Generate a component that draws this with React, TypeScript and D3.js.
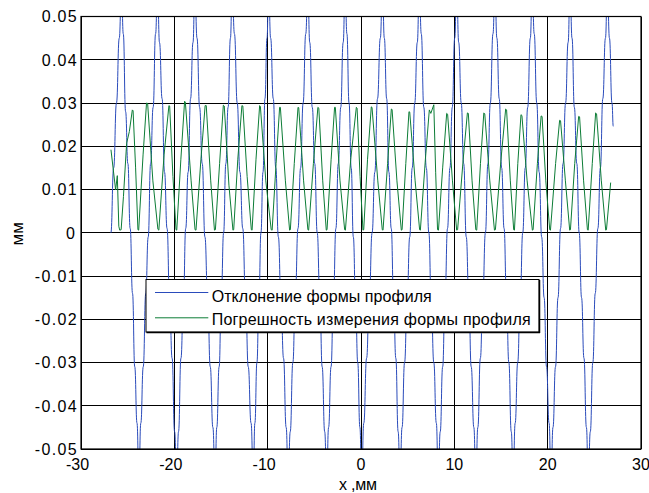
import React from 'react';
import * as d3 from 'd3';

const xTicks = [-30, -20, -10, 0, 10, 20, 30];
const xTickLabels = ['-30', '-20', '-10', '0', '10', '20', '30'];
const yTicks = [-0.05, -0.04, -0.03, -0.02, -0.01, 0, 0.01, 0.02, 0.03, 0.04, 0.05];
const yTickLabels = ['-0.05', '-0.04', '-0.03', '-0.02', '-0.01', '0', '0.01', '0.02', '0.03', '0.04', '0.05'];

const seriesNames = ['Отклонение формы профиля', 'Погрешность измерения формы профиля'];
const xLabel = 'x ,мм';
const yLabel = 'мм';

// Profile deviation (blue)
const blueX = [
  -26.8, -26.5, -26.2, -25.9, -25.66,
  -25.47, -25.22, -24.98, -24.73, -24.48, -24.24, -24.0, -23.8,
  -23.59, -23.33, -23.06, -22.8, -22.54, -22.27, -22.01, -21.8,
  -21.59, -21.31, -21.05, -20.78, -20.5, -20.24, -19.97, -19.75,
  -19.55, -19.29, -19.03, -18.78, -18.52, -18.26, -18.0, -17.8,
  -17.57, -17.29, -17.01, -16.72, -16.44, -16.15, -15.87, -15.64,
  -15.45, -15.2, -14.96, -14.72, -14.48, -14.24, -13.99, -13.8,
  -13.56, -13.26, -12.97, -12.67, -12.37, -12.08, -11.78, -11.54,
  -11.37, -11.15, -10.94, -10.72, -10.5, -10.29, -10.07, -9.9,
  -9.68, -9.4, -9.13, -8.85, -8.57, -8.3, -8.02, -7.8,
  -7.58, -7.3, -7.03, -6.75, -6.47, -6.2, -5.92, -5.7,
  -5.49, -5.22, -4.96, -4.69, -4.42, -4.16, -3.89, -3.68,
  -3.47, -3.21, -2.95, -2.69, -2.43, -2.17, -1.91, -1.7,
  -1.51, -1.28, -1.05, -0.82, -0.58, -0.35, -0.12, 0.07,
  0.3, 0.6, 0.89, 1.19, 1.48, 1.77, 2.07, 2.3,
  2.5, 2.75, 2.99, 3.24, 3.49, 3.73, 3.98, 4.18,
  4.4, 4.67, 4.94, 5.22, 5.49, 5.76, 6.03, 6.25,
  6.46, 6.73, 7.0, 7.27, 7.53, 7.8, 8.07, 8.28,
  8.49, 8.75, 9.01, 9.27, 9.53, 9.78, 10.04, 10.25,
  10.47, 10.74, 11.0, 11.28, 11.55, 11.81, 12.09, 12.3,
  12.52, 12.79, 13.05, 13.33, 13.6, 13.86, 14.14, 14.35,
  14.56, 14.81, 15.07, 15.33, 15.58, 15.84, 16.1, 16.3,
  16.52, 16.79, 17.05, 17.33, 17.6, 17.86, 18.14, 18.35,
  18.56, 18.83, 19.09, 19.36, 19.62, 19.88, 20.15, 20.36,
  20.57, 20.84, 21.11, 21.38, 21.65, 21.92, 22.19, 22.4,
  22.61, 22.86, 23.12, 23.38, 23.63, 23.89, 24.15, 24.35,
  24.57, 24.84, 25.1, 25.38, 25.65, 25.91, 26.19, 26.4,
  26.62, 26.89, 27.03,
];
const blueY = [
  0.0, 0.015, 0.03, 0.045, 0.057,
  0.046, 0.028, 0.016, 0.001, -0.014, -0.031, -0.044, -0.057,
  -0.044, -0.031, -0.014, -0.001, 0.016, 0.029, 0.046, 0.057,
  0.044, 0.031, 0.014, 0.001, -0.016, -0.029, -0.046, -0.057,
  -0.046, -0.029, -0.016, 0.001, 0.014, 0.031, 0.044, 0.057,
  0.045, 0.029, 0.016, -0.001, -0.014, -0.031, -0.045, -0.057,
  -0.045, -0.031, -0.014, 0.0, 0.016, 0.029, 0.045, 0.057,
  0.046, 0.03, 0.014, 0.001, -0.015, -0.031, -0.044, -0.057,
  -0.044, -0.03, -0.016, 0.0, 0.014, 0.031, 0.045, 0.057,
  0.045, 0.031, 0.015, -0.001, -0.016, -0.029, -0.045, -0.057,
  -0.046, -0.03, -0.014, 0.001, 0.015, 0.03, 0.046, 0.057,
  0.044, 0.029, 0.016, 0.0, -0.014, -0.031, -0.046, -0.057,
  -0.045, -0.031, -0.015, 0.001, 0.016, 0.029, 0.044, 0.057,
  0.046, 0.03, 0.015, -0.001, -0.016, -0.03, -0.045, -0.057,
  -0.044, -0.029, -0.015, 0.0, 0.014, 0.031, 0.045, 0.057,
  0.045, 0.031, 0.014, 0.001, -0.015, -0.029, -0.046, -0.057,
  -0.045, -0.03, -0.016, -0.001, 0.015, 0.03, 0.044, 0.057,
  0.046, 0.029, 0.015, 0.0, -0.016, -0.03, -0.044, -0.057,
  -0.046, -0.031, -0.014, 0.001, 0.015, 0.029, 0.045, 0.057,
  0.044, 0.03, 0.016, -0.001, -0.015, -0.031, -0.045, -0.057,
  -0.045, -0.029, -0.015, 0.0, 0.016, 0.03, 0.046, 0.057,
  0.045, 0.031, 0.015, 0.001, -0.014, -0.03, -0.046, -0.057,
  -0.044, -0.03, -0.016, 0.0, 0.015, 0.029, 0.045, 0.057,
  0.046, 0.03, 0.014, -0.001, -0.015, -0.031, -0.044, -0.057,
  -0.045, -0.031, -0.015, 0.001, 0.016, 0.03, 0.044, 0.057,
  0.045, 0.029, 0.016, 0.0, -0.015, -0.029, -0.045, -0.057,
  -0.046, -0.03, -0.014, 0.001, 0.015, 0.031, 0.045, 0.057,
  0.045, 0.03, 0.0246,
];

// Measurement error (green)
const greenX = [
  -26.79, -26.29, -26.11, -25.95, -25.85, -25.7, -25.45, -25.11, -24.82, -24.5, -24.42, -24.15,
  -23.9, -23.82, -23.35, -22.98, -22.86, -22.3,
  -21.76, -21.66, -21.1, -20.58, -20.5, -20.15,
  -19.82, -19.74, -19.3, -18.9, -18.82, -18.2,
  -17.78, -17.68, -17.15, -16.7, -16.58, -16.1,
  -15.7, -15.6, -15.15, -14.75, -14.65, -14.15,
  -13.72, -13.64, -13.2, -12.76, -12.66, -12.2,
  -11.75, -11.67, -11.25, -10.86, -10.78, -10.2,
  -9.62, -9.52, -9.1, -8.72, -8.64, -8.1,
  -7.65, -7.57, -7.15, -6.75, -6.67, -6.15,
  -5.69, -5.61, -5.1, -4.62, -4.52, -4.1,
  -3.72, -3.64, -3.2, -2.83, -2.75, -2.25,
  -1.75, -1.67, -1.1, -0.5, -0.42, -0.1,
  0.21, 0.29, 0.7, 1.1, 1.18, 1.8,
  2.28, 2.36, 2.85, 3.25, 3.33, 3.85,
  4.32, 4.4, 4.8, 5.14, 5.22, 5.8,
  6.28, 6.36, 6.9, 7.32, 7.48, 7.8, 8.0,
  8.2, 8.3, 8.75, 9.18, 9.28, 9.8,
  10.25, 10.35, 10.95, 11.4, 11.5, 11.9,
  12.3, 12.4, 12.8, 13.16, 13.26, 13.8,
  14.3, 14.4, 15.0, 15.5, 15.6, 16.0,
  16.36, 16.44, 16.8, 17.14, 17.24, 17.8,
  18.36, 18.44, 18.9, 19.3, 19.4, 19.8,
  20.22, 20.3, 20.85, 21.28, 21.38, 21.9,
  22.36, 22.44, 22.9, 23.32, 23.42, 23.85,
  24.26, 24.34, 24.78, 25.14, 25.24, 25.75,
  26.22, 26.3, 26.75,
];
const greenY = [
  0.0192, 0.0099, 0.0132, 0.0015, 0.0006, 0.0007, 0.0084, 0.0207, 0.0234, 0.0284, 0.0282, 0.015,
  0.0007, 0.0006, 0.018, 0.03, 0.0299, 0.012,
  0.0008, 0.0006, 0.018, 0.0294, 0.0293, 0.013,
  0.0007, 0.0006, 0.017, 0.0304, 0.0302, 0.012,
  0.0007, 0.0006, 0.017, 0.0294, 0.0294, 0.012,
  0.0006, 0.0007, 0.016, 0.0295, 0.0293, 0.011,
  0.0006, 0.0007, 0.017, 0.0294, 0.0293, 0.013,
  0.0007, 0.0006, 0.017, 0.0294, 0.0292, 0.012,
  0.0007, 0.0006, 0.016, 0.029, 0.029, 0.012,
  0.0006, 0.0007, 0.016, 0.029, 0.0289, 0.012,
  0.0007, 0.0006, 0.016, 0.029, 0.0288, 0.012,
  0.0006, 0.0007, 0.017, 0.029, 0.029, 0.012,
  0.0007, 0.0006, 0.017, 0.029, 0.0288, 0.013,
  0.0006, 0.0007, 0.017, 0.0291, 0.029, 0.012,
  0.0007, 0.0006, 0.016, 0.0286, 0.0285, 0.012,
  0.0006, 0.0007, 0.016, 0.028, 0.0279, 0.012,
  0.0007, 0.0006, 0.017, 0.0284, 0.0276, 0.0296, 0.014,
  0.0007, 0.0006, 0.015, 0.0276, 0.0274, 0.012,
  0.0006, 0.0007, 0.017, 0.0277, 0.0276, 0.012,
  0.0007, 0.0006, 0.016, 0.0277, 0.0275, 0.012,
  0.0006, 0.0007, 0.017, 0.0286, 0.0284, 0.012,
  0.0007, 0.0006, 0.016, 0.0273, 0.0271, 0.012,
  0.0006, 0.0007, 0.016, 0.027, 0.0269, 0.012,
  0.0007, 0.0006, 0.016, 0.026, 0.0259, 0.012,
  0.0006, 0.0007, 0.016, 0.0269, 0.0268, 0.012,
  0.0007, 0.0006, 0.016, 0.0277, 0.0275, 0.012,
  0.0006, 0.0007, 0.0116,
];

const BLUE = '#2a4bbb';
const GREEN = '#0c7c36';

export default function App() {
  const W = 649;
  const H = 493;
  const left = 81, right = 641, top = 16.5, bottom = 449;
  const x = d3.scaleLinear().domain([-30, 30]).range([left, right]);
  const y = d3.scaleLinear().domain([-0.05, 0.05]).range([bottom, top]);

  const blueLine = d3
    .line<[number, number]>()
    .x((d) => x(d[0]))
    .y((d) => y(d[1]))
    .curve(d3.curveBumpX);
  const greenLine = d3
    .line<[number, number]>()
    .x((d) => x(d[0]))
    .y((d) => y(d[1]));

  const bluePts = blueX.map((v, i) => [v, blueY[i]] as [number, number]);
  const greenPts = greenX.map((v, i) => [v, greenY[i]] as [number, number]);

  const font = "'Liberation Sans', Arial, sans-serif";

  return (
    <svg
      width={W}
      height={H}
      style={{ position: 'absolute', left: 0, top: 0, background: '#fff' }}
      fontFamily={font}
    >
      <defs>
        <clipPath id="plotClip">
          <rect x={left} y={top} width={right - left} height={bottom - top} />
        </clipPath>
      </defs>
      <rect x={0} y={0} width={W} height={H} fill="#fff" />
      {/* grid */}
      <g stroke="#000" strokeWidth={1} shapeRendering="crispEdges">
        {xTicks.map((t) => (
          <line key={'gx' + t} x1={x(t)} x2={x(t)} y1={top} y2={bottom} />
        ))}
        {yTicks.map((t) => (
          <line key={'gy' + t} x1={left} x2={right} y1={y(t)} y2={y(t)} />
        ))}
      </g>
      {/* data */}
      <g clipPath="url(#plotClip)" fill="none">
        <path d={blueLine(bluePts) || ''} stroke={BLUE} strokeWidth={1} />
        <path d={greenLine(greenPts) || ''} stroke={GREEN} strokeWidth={1} />
      </g>
      {/* frame */}
      <rect
        x={left}
        y={top}
        width={right - left}
        height={bottom - top}
        fill="none"
        stroke="#000"
        strokeWidth={1.2}
      />
      {/* y tick labels */}
      <g fontSize={16} fill="#000" textAnchor="end">
        {yTicks.map((t, i) => {
          const lab = yTickLabels[i];
          const len = lab === '0' ? undefined : lab.startsWith('-') ? 42 : 35;
          return (
            <text
              key={'yl' + t}
              x={lab === '0' ? 75 : 76.7}
              y={y(t) + 5.8}
              textLength={len}
              lengthAdjust={len ? 'spacing' : undefined}
            >
              {lab}
            </text>
          );
        })}
      </g>
      {/* x tick labels */}
      <g fontSize={16} fill="#000" textAnchor="middle">
        {xTicks.map((t, i) => {
          const lab = xTickLabels[i];
          return (
            <text key={'xl' + t} x={x(t) + (lab.startsWith('-') ? -3.5 : 0)} y={469.5}>
              {lab}
            </text>
          );
        })}
      </g>
      {/* axis labels */}
      <text x={358} y={489.5} fontSize={16} textAnchor="middle" fill="#000" textLength={38} lengthAdjust="spacing">
        {xLabel}
      </text>
      <text
        transform={`translate(23.3,233.8) rotate(-90)`}
        fontSize={17}
        textAnchor="middle"
        fill="#000"
      >
        {yLabel}
      </text>
      {/* legend */}
      <g>
        <rect x={146} y={279.5} width={393} height={52.5} fill="#fff" stroke="#000" strokeWidth={1} />
        <line x1={539.5} x2={539.5} y1={280} y2={333} stroke="#000" strokeWidth={1.5} />
        <line x1={146.5} x2={540} y1={332.5} y2={332.5} stroke="#000" strokeWidth={1.5} />
        <line x1={155} x2={208.3} y1={292.5} y2={292.5} stroke={BLUE} strokeWidth={1} />
        <line x1={155} x2={208.3} y1={317.8} y2={317.8} stroke={GREEN} strokeWidth={1} />
        <text x={211.7} y={301.5} fontSize={16} fill="#000" textLength={220} lengthAdjust="spacing">
          {seriesNames[0]}
        </text>
        <text x={211.7} y={324.5} fontSize={16} fill="#000" textLength={319} lengthAdjust="spacing">
          {seriesNames[1]}
        </text>
      </g>
    </svg>
  );
}
